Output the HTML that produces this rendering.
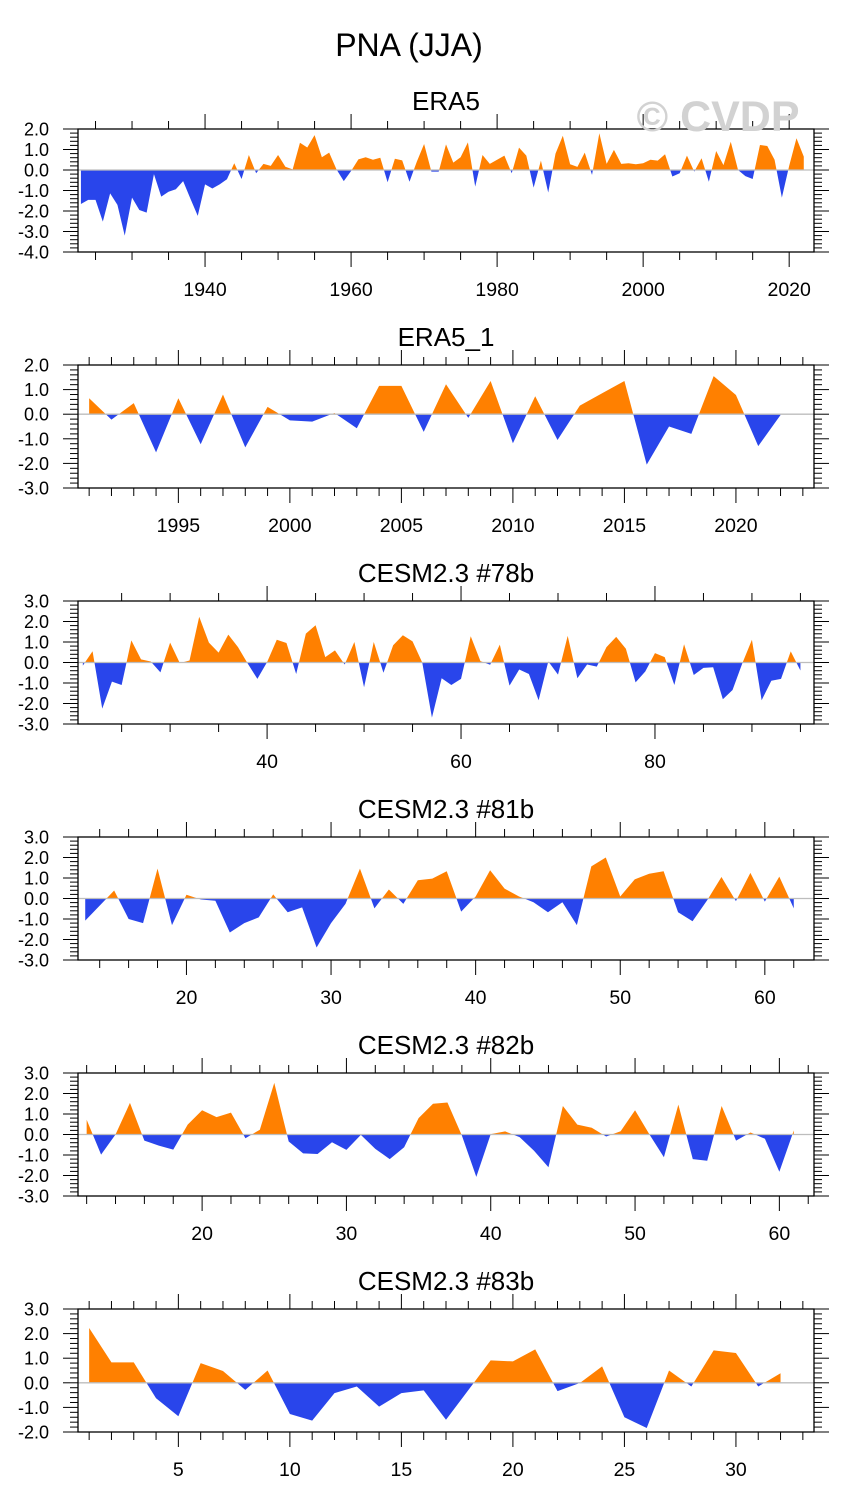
<!DOCTYPE html>
<html><head><meta charset="utf-8">
<style>
html,body{margin:0;padding:0;background:#fff;}
svg{display:block;font-family:"Liberation Sans",Arial,sans-serif;}
</style></head>
<body>
<svg id="chart" width="845" height="1506" viewBox="0 0 845 1506" xmlns="http://www.w3.org/2000/svg">
<text x="409" y="56" text-anchor="middle" font-size="32">PNA (JJA)</text>
</svg>
<script>
// ---- data ----
const era5Start = 1923;
const era5Values = [-1.66,-1.46,-1.46,-2.52,-1.14,-1.7,-3.2,-1.35,-1.95,-2.08,-0.2,-1.3,-1.06,-0.94,-0.54,-1.4,-2.24,-0.7,-0.9,-0.7,-0.45,0.33,-0.44,0.73,-0.16,0.3,0.2,0.73,0.16,0.03,1.33,1.1,1.7,0.62,0.85,0.03,-0.54,-0.05,0.52,0.62,0.5,0.6,-0.6,0.55,0.47,-0.57,0.4,1.27,-0.08,-0.08,1.25,0.36,0.62,1.35,-0.81,0.73,0.3,0.5,0.7,-0.16,1.09,0.7,-0.86,0.46,-1.1,0.8,1.67,0.28,0.15,0.85,-0.24,1.79,0.3,0.98,0.3,0.33,0.28,0.33,0.5,0.46,0.77,-0.32,-0.16,0.7,-0.08,0.57,-0.57,0.93,0.24,1.38,0.0,-0.3,-0.44,1.22,1.17,0.5,-1.35,0.2,1.55,0.65];
const era51Start = 1991;
const era51Values = [0.65,-0.22,0.45,-1.55,0.65,-1.22,0.8,-1.35,0.3,-0.25,-0.3,0.05,-0.57,1.15,1.15,-0.72,1.22,-0.15,1.35,-1.18,0.73,-1.05,0.35,0.85,1.35,-2.05,-0.5,-0.8,1.55,0.78,-1.3,-0.03];
const c78Start = 21;
const c78Values = [-0.15,0.55,-2.25,-0.93,-1.1,1.08,0.15,0.05,-0.48,0.97,-0.03,0.1,2.23,0.97,0.48,1.36,0.75,-0.05,-0.8,0.02,1.11,0.95,-0.56,1.41,1.82,0.26,0.59,-0.1,1.0,-1.21,1.0,-0.5,0.84,1.33,1.03,0.0,-2.69,-0.77,-1.1,-0.8,1.28,0.07,-0.11,0.87,-1.13,-0.34,-0.56,-1.84,0.05,-0.59,1.3,-0.77,-0.1,-0.2,0.75,1.25,0.67,-0.97,-0.44,0.46,0.26,-1.1,0.89,-0.61,-0.26,-0.23,-1.79,-1.34,-0.05,1.11,-1.84,-0.89,-0.8,0.54,-0.39];
const c81Start = 13;
const c81Values = [-1.08,-0.35,0.39,-1.0,-1.2,1.46,-1.3,0.18,-0.05,-0.11,-1.66,-1.2,-0.92,0.2,-0.67,-0.43,-2.39,-1.2,-0.26,1.46,-0.48,0.44,-0.26,0.89,0.97,1.33,-0.64,0.1,1.38,0.48,0.1,-0.18,-0.67,-0.18,-1.3,1.57,2.0,0.1,0.93,1.21,1.33,-0.67,-1.11,-0.1,1.05,-0.13,1.25,-0.15,1.07,-0.48];
const c82Start = 12;
const c82Values = [0.72,-0.98,0.0,1.54,-0.3,-0.54,-0.74,0.48,1.18,0.85,1.07,-0.18,0.23,2.52,-0.34,-0.92,-0.95,-0.38,-0.75,-0.02,-0.7,-1.2,-0.62,0.8,1.5,1.56,-0.05,-2.07,0.02,0.15,-0.13,-0.79,-1.6,1.39,0.48,0.33,-0.1,0.16,1.18,0.0,-1.11,1.46,-1.2,-1.28,1.39,-0.3,0.1,-0.21,-1.82,0.2];
const c83Start = 1;
const c83Values = [2.23,0.83,0.83,-0.63,-1.36,0.8,0.48,-0.29,0.5,-1.27,-1.54,-0.42,-0.15,-0.97,-0.42,-0.31,-1.5,-0.3,0.91,0.87,1.36,-0.34,-0.01,0.67,-1.4,-1.84,0.5,-0.15,1.32,1.21,-0.15,0.39];
const era5Ticks = [1940,1960,1980,2000,2020];
const era51Ticks = [1995,2000,2005,2010,2015,2020];
const c78Ticks = [40,60,80];
const c81Ticks = [20,30,40,50,60];
const c82Ticks = [20,30,40,50,60];
const c83Ticks = [5,10,15,20,25,30];

// ---- layout ----
const NS = "http://www.w3.org/2000/svg";
const svg = document.getElementById('chart');
const L = 78, R = 814;
const ORANGE = "#ff8000", BLUE = "#2945eb";
const panels = [
  {key:'era5', title:'ERA5', top:129, ymin:-4, ymax:2, x0:1922.6, x1:2023.4, start:era5Start, vals:era5Values, ticks:era5Ticks, minorStep:5},
  {key:'era5-1', title:'ERA5_1', top:365, ymin:-3, ymax:2, x0:1990.5, x1:2023.5, start:era51Start, vals:era51Values, ticks:era51Ticks, minorStep:1},
  {key:'cesm-78b', title:'CESM2.3 #78b', top:601, ymin:-3, ymax:3, x0:20.5, x1:96.4, start:c78Start, vals:c78Values, ticks:c78Ticks, minorStep:5},
  {key:'cesm-81b', title:'CESM2.3 #81b', top:837, ymin:-3, ymax:3, x0:12.5, x1:63.4, start:c81Start, vals:c81Values, ticks:c81Ticks, minorStep:2},
  {key:'cesm-82b', title:'CESM2.3 #82b', top:1073, ymin:-3, ymax:3, x0:11.4, x1:62.4, start:c82Start, vals:c82Values, ticks:c82Ticks, minorStep:2},
  {key:'cesm-83b', title:'CESM2.3 #83b', top:1309, ymin:-2, ymax:3, x0:0.5, x1:33.5, start:c83Start, vals:c83Values, ticks:c83Ticks, minorStep:1}
];
const H = 123;

function mk(tag, attrs, parent){
  const e = document.createElementNS(NS, tag);
  for (const k in attrs) e.setAttribute(k, attrs[k]);
  (parent||svg).appendChild(e);
  return e;
}

panels.forEach((p, pi) => {
  const top = p.top, bot = top + H;
  const xs = v => L + (v - p.x0) / (p.x1 - p.x0) * (R - L);
  const ys = v => bot - (v - p.ymin) / (p.ymax - p.ymin) * H;
  const g = mk('g', {});
  
  

  const t = mk('text', {x:(L+R)/2, y:top-19, 'text-anchor':'middle', 'font-size':'26'}, g);
  
  
  t.textContent = p.title;

  const z = ys(0);
  const defs = mk('defs', {}, g);
  const cp = mk('clipPath', {id:'pos'+pi}, defs);
  mk('rect', {x:L, y:top, width:R-L, height:z-top}, cp);
  const cn = mk('clipPath', {id:'neg'+pi}, defs);
  mk('rect', {x:L, y:z, width:R-L, height:bot-z}, cn);

  let pts = [];
  p.vals.forEach((v, i) => pts.push(xs(p.start + i).toFixed(2) + ',' + ys(v).toFixed(2)));
  const firstX = xs(p.start), lastX = xs(p.start + p.vals.length - 1);
  const poly = firstX.toFixed(2)+','+z+' '+pts.join(' ')+' '+lastX.toFixed(2)+','+z;
  const ap = mk('polygon', {points:poly, fill:ORANGE, 'clip-path':'url(#pos'+pi+')'}, g);
  
  
  const an = mk('polygon', {points:poly, fill:BLUE, 'clip-path':'url(#neg'+pi+')'}, g);
  
  

  const zl = mk('line', {x1:L, x2:R, y1:z, y2:z, stroke:'#bdbdbd', 'stroke-width':'1.3'}, g);
  
  

  const box = mk('rect', {x:L, y:top, width:R-L, height:H, fill:'none', stroke:'#000', 'stroke-width':'1.3'}, g);
  
  

  for (let k = Math.round(p.ymin*5); k <= Math.round(p.ymax*5); k++) {
    const v = k/5, y = ys(v), major = (k % 5 === 0);
    const len = major ? 15 : 8;
    mk('line', {x1:L-len, x2:L, y1:y, y2:y, stroke:'#000', 'stroke-width':'1'}, g);
    mk('line', {x1:R, x2:R+len, y1:y, y2:y, stroke:'#000', 'stroke-width':'1'}, g);
    if (major) {
      const tl = mk('text', {x:49, y:y+6.5, 'text-anchor':'end', 'font-size':'18'}, g);
      
      
      tl.textContent = v.toFixed(1);
    }
  }
  const step = p.minorStep;
  for (let v = Math.ceil(p.x0/step)*step; v <= p.x1; v += step) {
    const x = xs(v);
    const major = p.ticks.indexOf(v) >= 0;
    const len = major ? 15 : 8;
    mk('line', {x1:x, x2:x, y1:top-len, y2:top, stroke:'#000', 'stroke-width':'1'}, g);
    mk('line', {x1:x, x2:x, y1:bot, y2:bot+len, stroke:'#000', 'stroke-width':'1'}, g);
  }
  p.ticks.forEach(v => {
    const tl = mk('text', {x:xs(v), y:bot+44, 'text-anchor':'middle', 'font-size':'19.5'}, g);
    
    
    tl.textContent = String(v);
  });
});

const wm = mk('text', {x:718, y:131, 'text-anchor':'middle', 'font-size':'43', 'font-weight':'bold', fill:'#d2d2d2'});


wm.textContent = '© CVDP';
</script>
</body></html>
